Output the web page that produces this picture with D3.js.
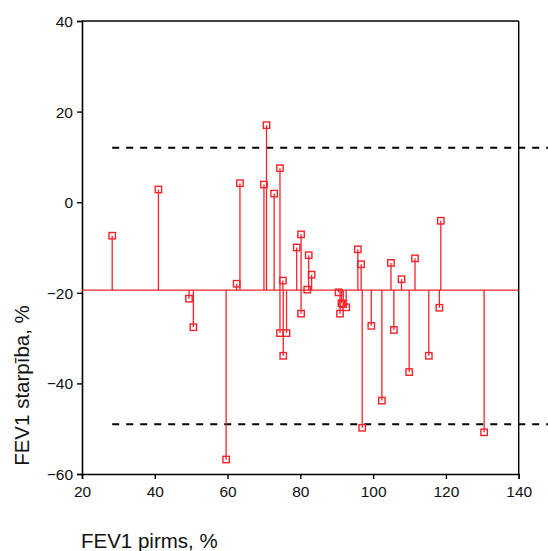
<!DOCTYPE html>
<html>
<head>
<meta charset="utf-8">
<script src="https://cdn.jsdelivr.net/npm/d3@7"></script>
<style>
  html, body { margin: 0; padding: 0; background: #fff; }
  svg { display: block; font-family: "Liberation Sans", Arial, sans-serif; }
</style>
</head>
<body>
<svg id="chart" width="548" height="551"></svg>
<script>
// FEV1 before treatment (%) and change in FEV1 (%) per patient
const fevBefore = [28.3, 41.0, 49.4, 50.6, 59.6, 62.5, 63.4, 70.0, 70.7, 72.8,
                   74.4, 74.4, 75.2, 75.3, 76.2, 79.0, 80.2, 80.2, 81.9, 82.3,
                   83.1, 90.5, 90.9, 91.3, 91.8, 92.6, 95.8, 96.7, 97.0, 99.5,
                   102.4, 104.9, 105.7, 107.8, 109.9, 111.5, 115.3, 118.2, 118.6, 130.5];
const fevDiff = [-7.4, 2.8, -21.3, -27.6, -56.8, -18.0, 4.2, 3.9, 17.0, 1.9,
                 7.5, -28.9, -17.3, -33.9, -28.9, -10.0, -7.1, -24.6, -19.3, -11.7,
                 -16.0, -19.9, -24.6, -22.3, -22.5, -23.2, -10.4, -13.7, -49.8, -27.3,
                 -43.8, -13.4, -28.2, -17.0, -37.5, -12.4, -33.9, -23.3, -4.1, -50.8];

// Mean difference and limits of agreement
const meanDiff = -19.4;
const limits = [12.0, -49.0];

// Axis ticks and titles
const xTicks = [20, 40, 60, 80, 100, 120, 140];
const yTicks = [-60, -40, -20, 0, 20, 40];
const xTitle = "FEV1 pirms, %";
const yTitle = "FEV1 starpība, %";

const svg = d3.select("#chart");
const W = 548;
const red = "#f5222a";

const x = d3.scaleLinear().domain([20, 140]).range([82, 518.7]);
const y = d3.scaleLinear().domain([-60, 40]).range([474, 21]);

// Frame (top and right)
svg.append("line").attr("x1", x(20)).attr("x2", x(140)).attr("y1", y(40)).attr("y2", y(40))
  .attr("stroke", "#000").attr("stroke-width", 1.4);
svg.append("line").attr("x1", x(140)).attr("x2", x(140)).attr("y1", y(40)).attr("y2", y(-60))
  .attr("stroke", "#000").attr("stroke-width", 1.4);

// Axes
const xAxis = svg.append("g").attr("transform", `translate(0,${y(-60)})`)
  .call(d3.axisBottom(x).tickValues(xTicks).tickSize(5).tickPadding(4).tickFormat(d3.format("d")));
const yAxis = svg.append("g").attr("transform", `translate(${x(20)},0)`)
  .call(d3.axisLeft(y).tickValues(yTicks).tickSize(5).tickPadding(4).tickFormat(d3.format("d")));

[xAxis, yAxis].forEach(g => {
  g.select(".domain").attr("stroke", "#000").attr("stroke-width", 1.6);
  g.selectAll(".tick line").attr("stroke", "#000").attr("stroke-width", 1.4);
  g.selectAll(".tick text").attr("fill", "#111").style("font-size", "15.5px")
    .style("font-family", "'Liberation Sans', Arial, sans-serif");
});
xAxis.selectAll(".tick text").attr("dy", "0.9em");
yAxis.selectAll(".tick text").attr("dy", "0.36em");

// Limits of agreement (dashed)
svg.selectAll("line.limit").data(limits).enter().append("line")
  .attr("class", "limit")
  .attr("x1", x(d3.min(fevBefore))).attr("x2", W)
  .attr("y1", d => y(d)).attr("y2", d => y(d))
  .attr("stroke", "#000").attr("stroke-width", 2)
  .attr("stroke-dasharray", "7,7");

// Mean difference line
svg.append("line")
  .attr("x1", x(20)).attr("x2", x(140))
  .attr("y1", y(meanDiff)).attr("y2", y(meanDiff))
  .attr("stroke", red).attr("stroke-width", 1.4);

const pts = fevBefore.map((v, i) => ({ x: v, y: fevDiff[i] }));

// Stems from the mean line to each point
svg.selectAll("line.stem").data(pts).enter().append("line")
  .attr("class", "stem")
  .attr("x1", d => x(d.x)).attr("x2", d => x(d.x))
  .attr("y1", y(meanDiff)).attr("y2", d => y(d.y))
  .attr("stroke", red).attr("stroke-width", 1.3);

// Hollow square markers
const s = 6.4;
svg.selectAll("rect.pt").data(pts).enter().append("rect")
  .attr("class", "pt")
  .attr("x", d => x(d.x) - s / 2).attr("y", d => y(d.y) - s / 2)
  .attr("width", s).attr("height", s)
  .attr("fill", "none").attr("stroke", red).attr("stroke-width", 1.4);

// Axis titles
svg.append("text")
  .attr("x", 81).attr("y", 548)
  .style("font-size", "20.5px").attr("fill", "#111")
  .text(xTitle);
svg.append("text")
  .attr("transform", "translate(29,385.5) rotate(-90)")
  .attr("text-anchor", "middle")
  .style("font-size", "20.5px").attr("fill", "#111")
  .text(yTitle);
</script>
</body>
</html>
